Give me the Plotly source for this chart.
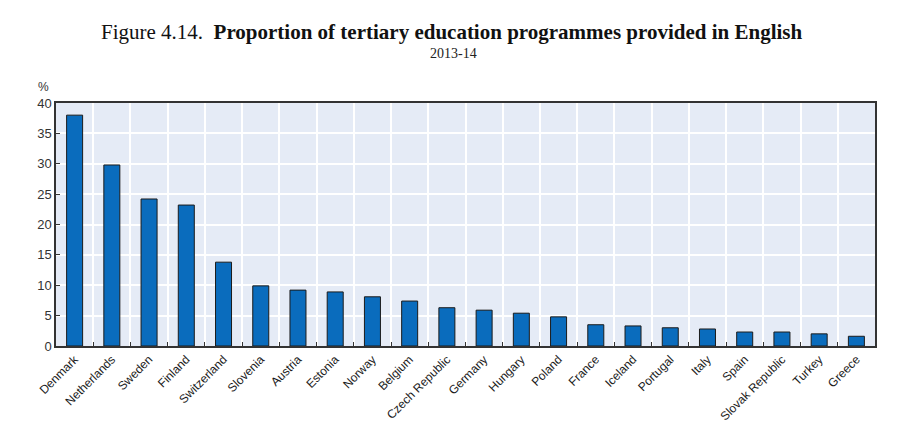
import plotly.graph_objects as go

countries = ["Denmark", "Netherlands", "Sweden", "Finland", "Switzerland", "Slovenia",
             "Austria", "Estonia", "Norway", "Belgium", "Czech Republic", "Germany",
             "Hungary", "Poland", "France", "Iceland", "Portugal", "Italy", "Spain",
             "Slovak Republic", "Turkey", "Greece"]
values = [38.0, 29.8, 24.2, 23.2, 13.8, 9.9, 9.2, 8.9, 8.1, 7.4, 6.3, 5.9,
          5.4, 4.8, 3.5, 3.3, 3.0, 2.8, 2.3, 2.3, 2.0, 1.6]
y_ticks = [0, 5, 10, 15, 20, 25, 30, 35, 40]

fig = go.Figure(go.Bar(
    x=countries, y=values,
    marker=dict(color="#0a6cbd", line=dict(color="#1b1b1b", width=1)),
))

fig.update_layout(
    width=902, height=415,
    margin=dict(l=48, r=35, t=95, b=77, autoexpand=False),
    paper_bgcolor="white", plot_bgcolor="#e5ebf6",
    bargap=0.57, showlegend=False,
    font=dict(family="Liberation Sans, Arial", size=12, color="#222"),
    annotations=[
        dict(text="Figure 4.14.  <b>Proportion of tertiary education programmes provided in English</b>",
             xref="paper", yref="paper", x=0.483, y=1.0, yshift=71, showarrow=False,
             xanchor="center", yanchor="middle",
             font=dict(family="Liberation Serif, DejaVu Serif", size=21, color="#111")),
        dict(text="2013-14", xref="paper", yref="paper", x=0.485, y=1.0, yshift=50,
             showarrow=False, xanchor="center", yanchor="middle",
             font=dict(family="Liberation Serif, DejaVu Serif", size=14, color="#222")),
        dict(text="%", xref="paper", yref="paper", x=0, xshift=-13, y=1.0, yshift=16,
             showarrow=False, xanchor="center", yanchor="middle",
             font=dict(size=12, color="#333")),
    ],
)
fig.update_xaxes(
    type="category", tickangle=-45, tickson="boundaries",
    ticks="inside", ticklen=4, tickcolor="#333",
    showgrid=True, gridcolor="white", gridwidth=2,
    showline=True, linecolor="#333", linewidth=1.5, mirror=True,
    tickfont=dict(size=12, color="#1a1a1a"),
)
fig.update_yaxes(
    range=[0, 40], tickvals=y_ticks,
    ticks="inside", ticklen=4, tickcolor="#333",
    showgrid=True, gridcolor="white", gridwidth=2, zeroline=False,
    showline=True, linecolor="#333", linewidth=1.5, mirror=True,
    tickfont=dict(size=13, color="#333"),
)

fig.write_html("out.html")
